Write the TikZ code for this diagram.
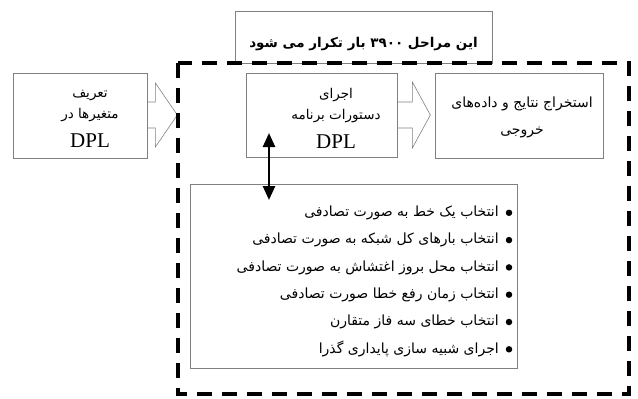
\documentclass[tikz,border=0pt]{standalone}
\usepackage{fontspec}
\setmainfont{Liberation Serif}
\newfontfamily\fa[Script=Arabic]{DejaVu Sans}
\TeXXeTstate=1
\usetikzlibrary{arrows.meta}

\begin{document}
\begin{tikzpicture}[x=1pt, y=-1pt, >={Triangle[length=14pt, width=12pt]},
            box/.style={draw=gray, line width=0.7pt},
            boxtext/.style={align=center, font=\fa\fontsize{13.5}{21}\selectfont},
            tail/.style={draw=gray, line width=0.6pt},
            repeatline/.style={line width=4.5pt, dash pattern=on 15pt off 10pt},
            item/.style={anchor=east, inner sep=0pt, font=\fa\fontsize{14}{16}\selectfont},
            dot/.style={circle, fill, inner sep=0pt, minimum size=6.5pt}]
            \useasboundingbox (0,0) rectangle (638,399);
            \node[box, minimum width=257pt, minimum height=52pt, text height=21pt, text depth=0pt,
                font=\fa\bfseries\fontsize{13.5}{15}\selectfont] (repeat) at (363.5,37)
                {\beginR این مراحل \beginL۳۹۰۰\endL{} بار تکرار می شود\endR};
            \node[box, minimum width=134pt, minimum height=85pt] (define) at (80,115.5) {};
            \node[boxtext] (defineText) at (90,118.5)
                {\beginR تعریف\endR\\\beginR متغیرها در\endR\\[8pt]{\rmfamily\fontsize{21}{21}\selectfont DPL}};
            \draw[tail] (define.east) ++(0,-13.5) -- ++(8,0) -- ++(0,-19) -- ++(22,32) -- ++(-22,32) -- ++(0,-19) -- ++(-8,0);
            \node[box, minimum width=151pt, minimum height=84pt] (run) at (321.5,115) {};
            \node[boxtext] (runText) at (336,118.5)
                {\beginR اجرای\endR\\\beginR دستورات برنامه\endR\\[8pt]{\rmfamily\fontsize{21}{21}\selectfont DPL}};
            \draw[tail] (run.east) ++(0,-13) -- ++(15,0) -- ++(0,-20) -- ++(18,33) -- ++(-18,33) -- ++(0,-20) -- ++(-15,0);
            \node[box, minimum width=168pt, minimum height=85pt] (output) at (519,115.5) {};
            \node[boxtext, font=\fa\fontsize{14}{27}\selectfont] (outputText) at (522,117.5)
                {\beginR استخراج نتایج و داده‌های\endR\\\beginR خروجی\endR};
            \node[box, minimum width=327pt, minimum height=184pt] (tasks) at (353.5,276) {};
            \foreach \txt [count=\i] in {انتخاب یک خط به صورت تصادفی, انتخاب بارهای کل شبکه به صورت تصادفی,
                    انتخاب محل بروز اغتشاش به صورت تصادفی, انتخاب زمان رفع خطا صورت تصادفی,
                    انتخاب خطای سه فاز متقارن, اجرای شبیه سازی پایداری گذرا} {
                \node[item] (item\i) at (499,{185.5+27.3*\i}) {\beginR\txt\endR};
                \node[dot] (dot\i) at (509,{185.5+27.3*\i}) {};
            }
            % link between the run box and the task list
            \coordinate (linkA) at (269,133);
            \coordinate (linkB) at (269,200);
            \draw[<->, line width=2.5pt] (linkA) -- (linkB);
            \draw[repeatline] (178,63) rectangle (629,394);
        \end{tikzpicture}
\end{document}
